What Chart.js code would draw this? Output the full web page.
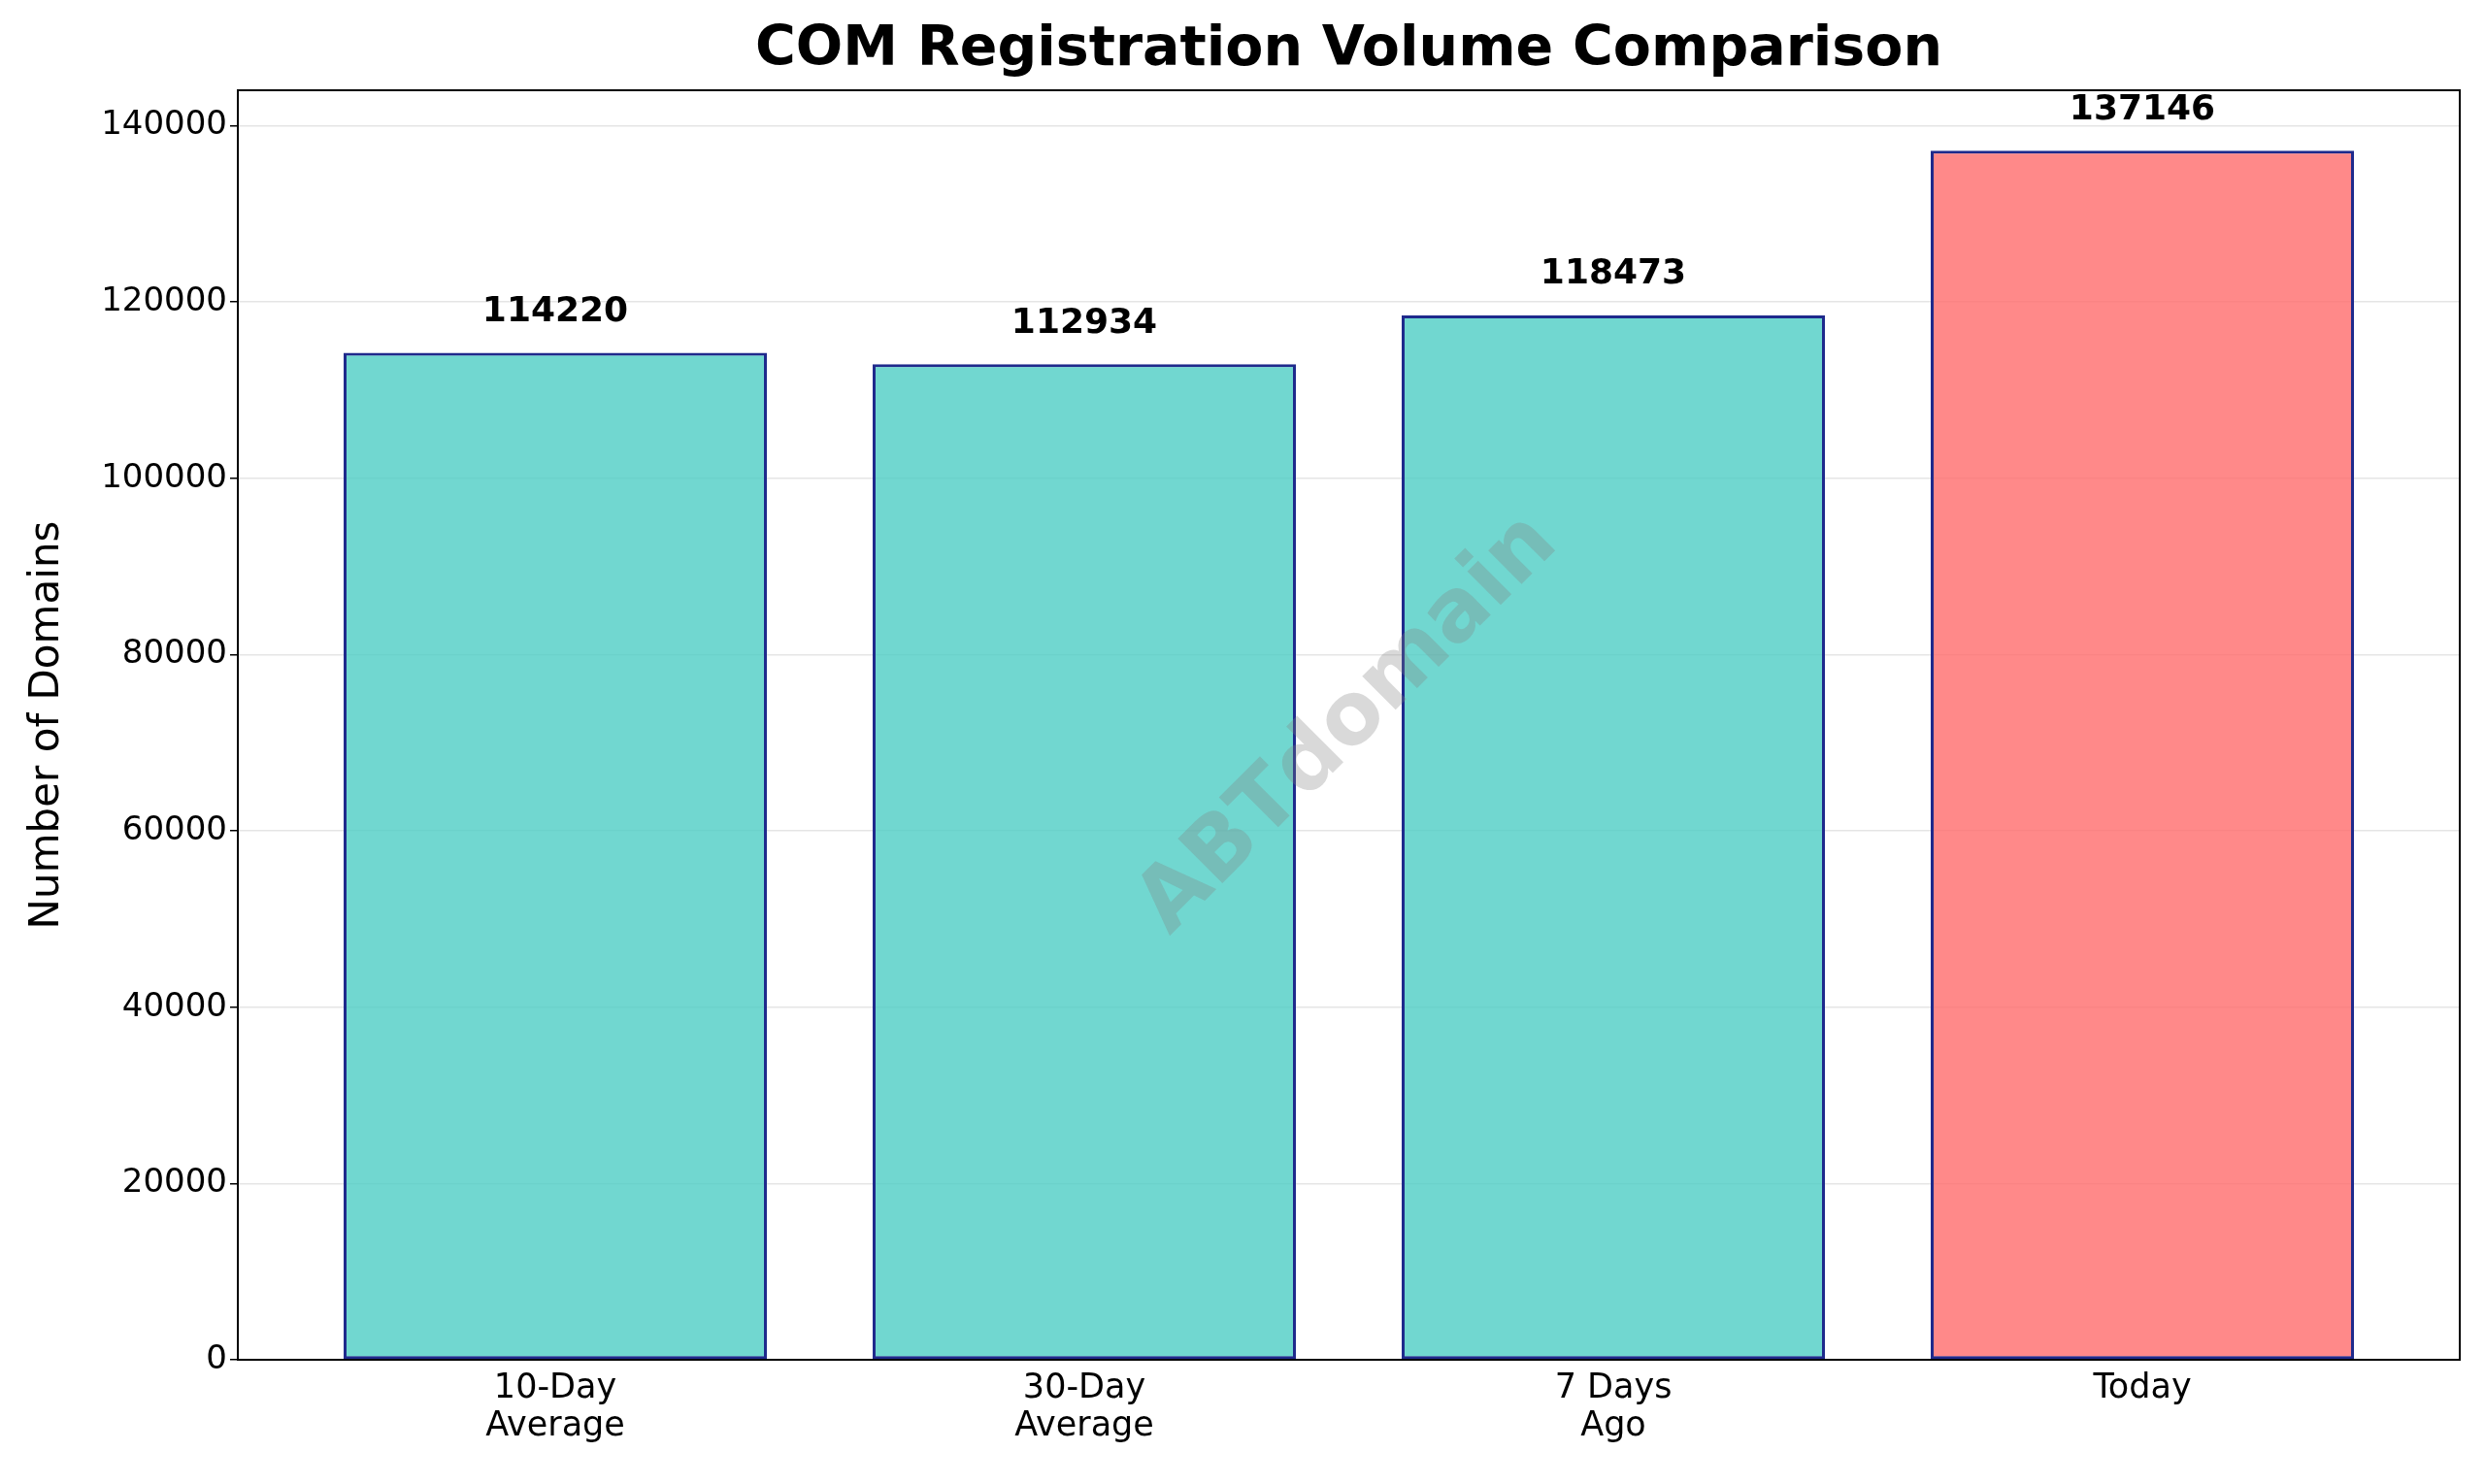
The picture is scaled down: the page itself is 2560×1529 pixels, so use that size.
<!DOCTYPE html>
<html>
<head>
<meta charset="utf-8">
<script src="https://cdn.jsdelivr.net/npm/chart.js@4"></script>
<style>
  html, body { margin: 0; padding: 0; background: #fff; }
  #wrap { width: 2560px; height: 1529px; }
</style>
</head>
<body>
<div id="wrap"><canvas id="c"></canvas></div>
<script>
// ─── Data ──────────────────────────────────────────────
const categories = [['10-Day', 'Average'], ['30-Day', 'Average'], ['7 Days', 'Ago'], ['Today']];
const values = [114220, 112934, 118473, 137146];
const barColors = ['rgba(78,205,196,0.8)', 'rgba(78,205,196,0.8)', 'rgba(78,205,196,0.8)', 'rgba(255,107,107,0.8)'];
const yTicks = [0, 20000, 40000, 60000, 80000, 100000, 120000, 140000];

const FONT = "'DejaVu Sans', sans-serif";

// title, value labels, frame and watermark
const overlay = {
    id: 'overlay',
    afterDatasetsDraw(chart) {
        const { ctx, chartArea: a } = chart;
        const meta = chart.getDatasetMeta(0);
        ctx.save();
        ctx.strokeStyle = '#000';
        ctx.lineWidth = 2;
        ctx.strokeRect(a.left, a.top, a.right - a.left, a.bottom - a.top);
        ctx.fillStyle = '#000';
        ctx.textAlign = 'center';
        ctx.textBaseline = 'bottom';
        ctx.font = `bold 36px ${FONT}`;
        meta.data.forEach((bar, i) => {
            ctx.fillText(String(values[i]), bar.x, bar.y - 24);
        });
        ctx.font = `bold 57px ${FONT}`;
        ctx.textBaseline = 'middle';
        ctx.fillText('COM Registration Volume Comparison', (a.left + a.right) / 2, 52);
        // watermark
        ctx.translate((a.left + a.right) / 2, (a.top + a.bottom) / 2);
        ctx.rotate(-Math.PI / 4);
        ctx.font = `bold 89px ${FONT}`;
        ctx.fillStyle = 'rgba(128,128,128,0.3)';
        ctx.fillText('ABTdomain', 0, 0);
        ctx.restore();
    }
};

new Chart(document.getElementById('c').getContext('2d'), {
    type: 'bar',
    data: {
        datasets: [{
            data: values.map((v, i) => ({ x: i, y: v })),
            backgroundColor: barColors,
            borderColor: '#1f2a8c',
            borderWidth: 3,
            borderSkipped: false,
            barPercentage: 0.8,
            categoryPercentage: 1
        }]
    },
    options: {
        responsive: true,
        maintainAspectRatio: false,
        animation: false,
        devicePixelRatio: 1,
        layout: { padding: { top: 93, right: 26, left: 20, bottom: 0 } },
        plugins: { legend: { display: false }, tooltip: { enabled: false } },
        scales: {
            x: {
                type: 'linear', min: -0.6, max: 3.6, offset: false,
                afterBuildTicks: s => { s.ticks = categories.map((_, i) => ({ value: i })); },
                afterFit: s => { s.height = 128; },
                grid: { display: false },
                border: { color: '#000', width: 2 },
                ticks: {
                    color: '#000', font: { size: 35, family: FONT, lineHeight: 1.1 },
                    callback: v => categories[v]
                }
            },
            y: {
                min: 0, max: 144003,
                afterBuildTicks: s => { s.ticks = yTicks.map(v => ({ value: v })); },
                afterFit: s => { s.width = 225; },
                grid: { color: 'rgba(0,0,0,0.1)', lineWidth: 1.5, tickColor: '#000', tickLength: 8 },
                border: { color: '#000', width: 2 },
                title: { display: true, text: 'Number of Domains', color: '#000', font: { size: 42, family: FONT } },
                ticks: { color: '#000', font: { size: 34, family: FONT }, callback: v => String(v) }
            }
        }
    },
    plugins: [overlay]
});
</script>
</body>
</html>
